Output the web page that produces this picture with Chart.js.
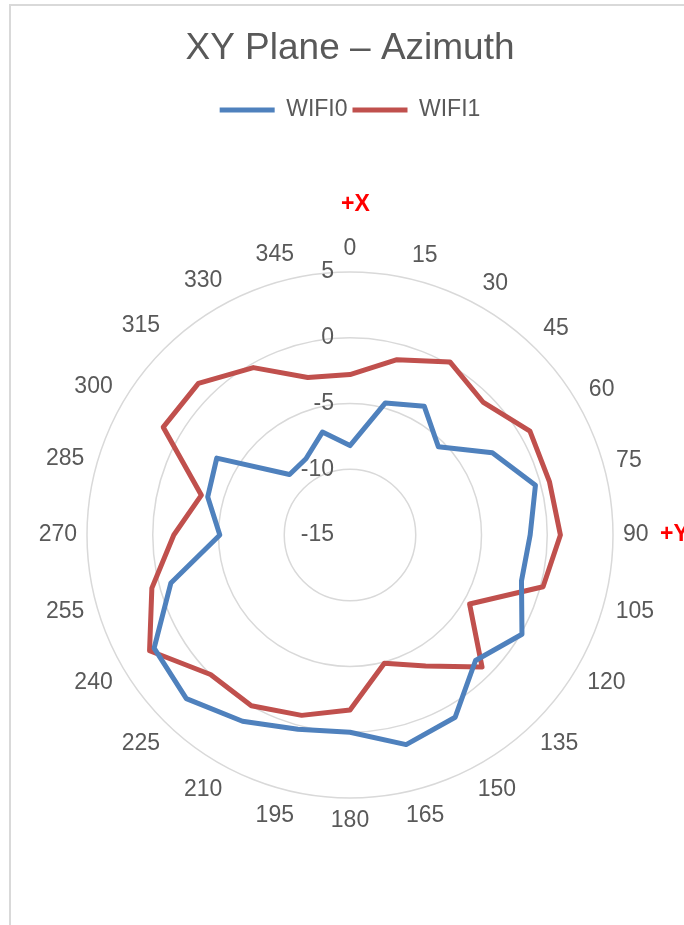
<!DOCTYPE html>
<html>
<head>
<meta charset="utf-8">
<script src="https://cdn.jsdelivr.net/npm/chart.js@4.4.1/dist/chart.umd.min.js"></script>
<style>
  html, body { margin: 0; padding: 0; background: #fff; overflow: hidden; }
  #wrap { position: relative; width: 684px; height: 925px; overflow: hidden; }
  #frame { position: absolute; left: 9px; top: 4px; width: 800px; height: 1000px; border-top: 2px solid #d9d9d9; border-left: 2px solid #d9d9d9; }
  #box { position: absolute; left: 0; top: 0; width: 684px; height: 950px; }
  .axis { position: absolute; color: #ff0000; font: bold 23px/1 "Liberation Sans", Arial, sans-serif; }
</style>
</head>
<body>
<div id="wrap">
  <div id="frame"></div>
  <div id="box"><canvas id="polar"></canvas></div>
  <span class="axis" style="left:341px; top:192px;">+X</span>
  <span class="axis" style="left:660px; top:522px;">+Y</span>
</div>
<script>
// azimuth angles, degrees
const angles = ['0', '15', '30', '45', '60', '75', '90', '105', '120', '135', '150', '165',
                '180', '195', '210', '225', '240', '255', '270', '285', '300', '315', '330', '345'];

// gain, dB
const wifi0 = [-8.2, -4.6, -3.7, -5.5, -2.5, -0.4, -1.3, -1.5, 0.1, -1.5, 1.0, 1.5,
               0.0, 0.3, 1.35, 2.6, 2.2, -0.9, -5.1, -3.8, -3.3, -8.5, -8.3, -6.9];
const wifi1 = [-2.8, -1.2, 0.2, -0.7, 0.8, 0.7, 1.0, 0.2, -4.5, -0.8, -3.5, -4.9,
               -1.7, -0.8, 0.0, 0.0, 2.6, 0.6, -1.6, -3.3, 1.4, 1.3, -0.3, -2.6];

const FONT = '"Liberation Sans", Arial, sans-serif';
const GREY = '#595959';

// Excel puts the dB labels just left of the vertical axis,
// and centres the angle labels a little outside the outer ring
const excelLabels = {
  id: 'excelLabels',
  afterDatasetsDraw(chart) {
    const scale = chart.scales.r;
    const ctx = chart.ctx;
    ctx.save();
    ctx.font = '23px ' + FONT;
    ctx.fillStyle = GREY;
    ctx.textBaseline = 'middle';

    ctx.textAlign = 'right';
    scale.ticks.forEach(t => {
      const y = scale.yCenter - scale.getDistanceFromCenterForValue(t.value);
      ctx.fillText(t.label, scale.xCenter - 16, y);
    });

    ctx.textAlign = 'center';
    chart.data.labels.forEach((lab, i) => {
      const a = scale.getIndexAngle(i);
      const hw = ctx.measureText(lab).width / 2;
      const d = scale.drawingArea + 10 + hw * Math.abs(Math.sin(a)) + 13 * Math.abs(Math.cos(a));
      const p = scale.getPointPosition(i, d);
      ctx.fillText(lab, p.x, p.y);
    });
    ctx.restore();
  }
};

new Chart(document.getElementById('polar'), {
  type: 'radar',
  data: {
    labels: angles,
    datasets: [
      { label: 'WIFI0', data: wifi0, borderColor: '#4f81bd', backgroundColor: '#4f81bd',
        borderWidth: 5, fill: false, pointRadius: 0, tension: 0,
        borderJoinStyle: 'round', borderCapStyle: 'round' },
      { label: 'WIFI1', data: wifi1, borderColor: '#c0504d', backgroundColor: '#c0504d',
        borderWidth: 5, fill: false, pointRadius: 0, tension: 0,
        borderJoinStyle: 'round', borderCapStyle: 'round' }
    ]
  },
  options: {
    responsive: true,
    maintainAspectRatio: false,
    animation: false,
    layout: { padding: { left: 87, right: 71, top: 0, bottom: 11 } },
    plugins: {
      title: {
        display: true,
        text: 'XY Plane – Azimuth',
        color: GREY,
        font: { family: FONT, size: 37, weight: 'normal' },
        padding: { top: 27, bottom: 22 }
      },
      legend: {
        position: 'top',
        labels: {
          usePointStyle: true,
          pointStyle: 'line',
          pointStyleWidth: 55,
          color: GREY,
          font: { family: FONT, size: 23 },
          padding: 5
        }
      },
      tooltip: { enabled: false }
    },
    scales: {
      r: {
        min: -15,
        max: 5,
        ticks: { stepSize: 5, display: false },
        grid: { circular: true, color: '#d9d9d9', lineWidth: 1.5 },
        angleLines: { display: false },
        pointLabels: { display: false }
      }
    }
  },
  plugins: [excelLabels]
});
</script>
</body>
</html>
